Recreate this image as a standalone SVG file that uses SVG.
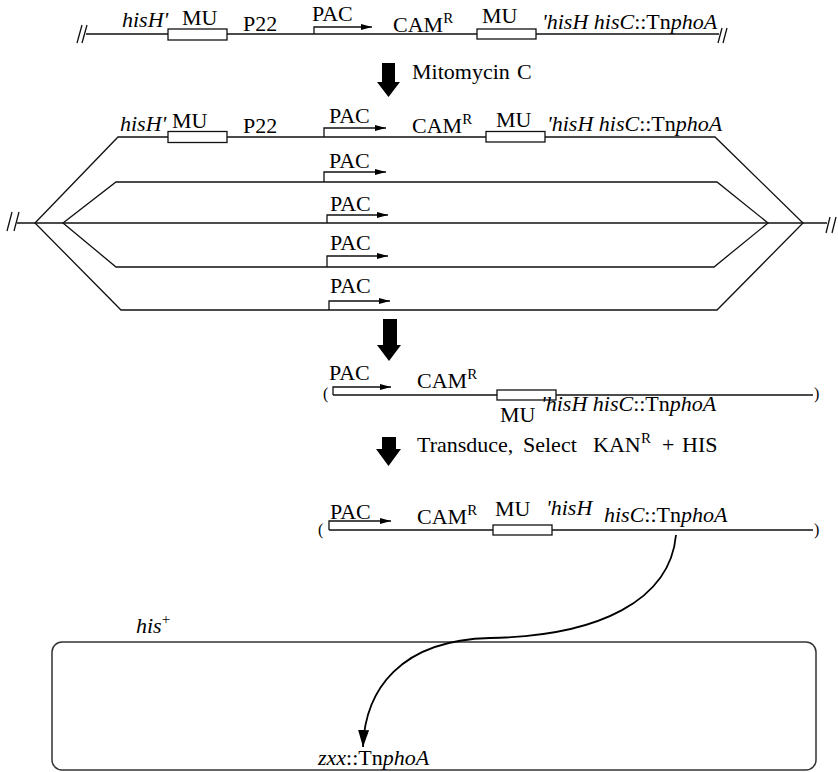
<svg xmlns="http://www.w3.org/2000/svg" width="838" height="772" viewBox="0 0 838 772" font-family="'Liberation Serif', 'Times New Roman', serif" font-size="22">
<defs>
<marker id="ah" markerUnits="userSpaceOnUse" markerWidth="12" markerHeight="7" refX="11" refY="3" orient="auto"><path d="M0,0 L11,3 L0,6 z" fill="#000"/></marker>
<marker id="ah2" markerUnits="userSpaceOnUse" markerWidth="18" markerHeight="12" refX="17" refY="5.5" orient="auto"><path d="M0,0 L17,5.5 L0,11 z" fill="#000"/></marker>
</defs>
<style>
text{font-family:'Liberation Serif','Times New Roman',serif;font-size:22px;fill:#000}
.i{font-style:italic}
.sup{font-size:15px}
.par{font-size:16px}
.ln{fill:none;stroke:#111;stroke-width:1.3}
.box{fill:#fff;stroke:#111;stroke-width:1.3}
.pa{fill:none;stroke:#111;stroke-width:1.3;marker-end:url(#ah)}
.big{fill:#000;stroke:none}
</style>
<rect width="838" height="772" fill="#fff"/>

<g id="row1">
<path class="ln" d="M86,34 H719"/>
<path class="ln" d="M77,43 L82,25 M82,43 L87,25"/>
<path class="ln" d="M718,43 L722,28 M723,43 L727,28"/>
<rect class="box" x="168" y="29" width="59" height="11"/>
<rect class="box" x="477" y="29" width="59" height="10"/>
<text x="122" y="27" class="i">hisH'</text>
<text x="182" y="25">MU</text>
<text x="243" y="31">P22</text>
<text x="312" y="21">PAC</text>
<path class="pa" d="M314,34 V27 H372"/>
<text x="393" y="32">CAM<tspan class="sup" dy="-9">R</tspan></text>
<text x="482" y="23">MU</text>
<text x="542" y="29"><tspan class="i">'hisH hisC</tspan>::Tn<tspan class="i">phoA</tspan></text>
</g>

<g id="mitomycin">
<text y="79"><tspan x="412">Mitomycin</tspan><tspan x="517">C</tspan></text>
</g>

<g id="lysogen-strands">
<path class="ln" d="M17,223 H827"/>
<path class="ln" d="M7,231 L12,212 M14,231 L19,212"/>
<path class="ln" d="M826,233 L830,217 M832,233 L836,217"/>
<path class="ln" d="M35,223 L118,137 H715 L803,223 L717,310 H121 Z"/>
<path class="ln" d="M63,223 L116,182 H717 L768,223 L714,267 H116 Z"/>
</g>

<g id="strand1">
<rect class="box" x="168" y="131.5" width="59" height="11"/>
<rect class="box" x="486" y="131.5" width="59" height="10.5"/>
<text x="120" y="131" class="i">hisH'</text>
<text x="172" y="128">MU</text>
<text x="243" y="133">P22</text>
<text x="329" y="123">PAC</text>
<path class="pa" d="M324,137 V128 H386"/>
<text x="412" y="133">CAM<tspan class="sup" dy="-9">R</tspan></text>
<text x="496" y="127">MU</text>
<text x="547" y="131"><tspan class="i">'hisH hisC</tspan>::Tn<tspan class="i">phoA</tspan></text>
</g>

<g id="strand2">
<text x="329" y="168">PAC</text>
<path class="pa" d="M324,182 V172 H386"/>
</g>
<g id="strand3">
<text x="330" y="211">PAC</text>
<path class="pa" d="M327,223 V215 H388"/>
</g>
<g id="strand4">
<text x="330" y="250">PAC</text>
<path class="pa" d="M327,267 V256 H388"/>
</g>
<g id="strand5">
<text x="330" y="293">PAC</text>
<path class="pa" d="M329,310 V301 H390"/>
</g>

<g id="phage-dna">
<text x="323" y="399" class="par">(</text>
<path class="ln" d="M333,395 H813"/>
<text x="814" y="399" class="par">)</text>
<text x="329" y="380">PAC</text>
<path class="pa" d="M333,395 V387 H391"/>
<text x="417" y="388">CAM<tspan class="sup" dy="-9">R</tspan></text>
<rect class="box" x="497" y="390" width="59" height="10"/>
<text x="500" y="422">MU</text>
<text x="541" y="411"><tspan class="i">'hisH hisC</tspan>::Tn<tspan class="i">phoA</tspan></text>
</g>

<g id="transduce">
<text y="452"><tspan x="417">Transduce,</tspan><tspan x="523">Select</tspan><tspan x="593">KAN</tspan><tspan class="sup" x="641" dy="-9">R</tspan><tspan x="662" dy="9">+</tspan><tspan x="682">HIS</tspan></text>
</g>

<g id="transducing-dna">
<text x="318" y="535" class="par">(</text>
<path class="ln" d="M329,530 H813"/>
<text x="814" y="535" class="par">)</text>
<text x="330" y="519">PAC</text>
<path class="pa" d="M329,530 V521 H391"/>
<text x="417" y="524">CAM<tspan class="sup" dy="-9">R</tspan></text>
<rect class="box" x="493" y="525" width="59" height="10"/>
<text x="495" y="516">MU</text>
<text x="546" y="515" class="i">'hisH</text>
<text x="604" y="522"><tspan class="i">hisC</tspan>::Tn<tspan class="i">phoA</tspan></text>
</g>

<g id="recipient">
<rect x="52" y="642" width="764" height="128" rx="10" fill="none" stroke="#333" stroke-width="1.5"/>
<text x="136" y="633" class="i">his<tspan class="sup" dy="-9" style="font-style:normal">+</tspan></text>
<text x="318" y="765"><tspan class="i">zxx</tspan>::Tn<tspan class="i">phoA</tspan></text>
</g>

<g id="connectors">
<polygon class="big" points="382,63 395,63 395,82 400,82 388.5,97 377,82 382,82"/>
<polygon class="big" points="383,319 397,319 397,345 401,345 389,361 377,345 383,345"/>
<polygon class="big" points="382,437 396,437 396,449 401,449 388.5,466 376,449 382,449"/>
<path d="M676,535 C670,600 600,636 490,638 C400,640 365,690 363,747" fill="none" stroke="#000" stroke-width="1.8" marker-end="url(#ah2)"/>
</g>
</svg>
